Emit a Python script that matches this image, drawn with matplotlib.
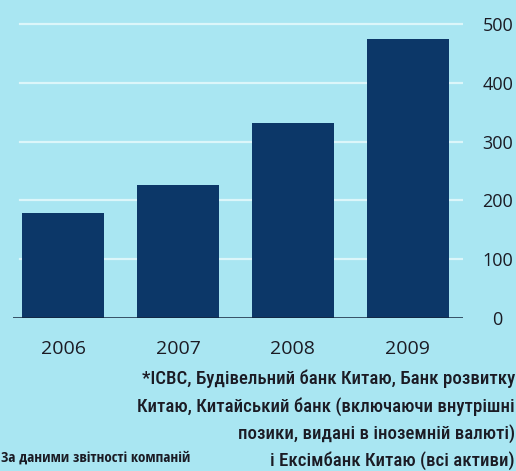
import os
import matplotlib
matplotlib.use("Agg")
import matplotlib.pyplot as plt
from matplotlib import font_manager as fm

years = ["2006", "2007", "2008", "2009"]
values = [178, 227, 332, 475]
yticks = [0, 100, 200, 300, 400, 500]
ytick_labels = ["0", "100", "200", "300", "400", "500"]
footnote_lines = ["*ICBC, Будівельний банк Китаю, Банк розвитку",
                  "Китаю, Китайський банк (включаючи внутрішні",
                  "позики, видані в іноземній валюті)",
                  "і Ексімбанк Китаю (всі активи)"]
source = "За даними звітності компаній"

BG = "#a9e6f2"
BAR = "#0c3768"
GRID = "#dcf6fa"
TXT = "#1b1b24"
FONT = ["Open Sans", "DejaVu Sans"]


def wnum(w):
    return w if isinstance(w, int) else fm.weight_dict.get(w, 400)


def is_narrow(f):
    base = os.path.basename(f.fname).lower()
    tag = (f.name + " " + base).lower()
    if "italic" in tag or "oblique" in tag:
        return False
    if f.style != "normal":
        return False
    fam_ok = any(k in tag for k in ["noto sans", "notosans", "open sans",
                                    "opensans", "roboto", "liberation"])
    narrow_ok = ("condensed" in tag or "narrow" in tag
                 or str(f.stretch) in ("condensed", "semi-condensed"))
    bad = any(k in tag for k in ["mono", "display", "extra", "ultra", "cjk",
                                 "serif", "math", "symbol"])
    return fam_ok and narrow_ok and not bad


def pick_narrow(target, max_dev):
    cands = [f for f in fm.fontManager.ttflist if is_narrow(f)]
    if cands:
        best = min(cands, key=lambda f: (abs(wnum(f.weight) - target),
                                         wnum(f.weight), f.fname))
        if abs(wnum(best.weight) - target) <= max_dev:
            return fm.FontProperties(fname=best.fname)
    return None


FOOT_PROP = pick_narrow(500, 120) or fm.FontProperties(family=["Roboto", "DejaVu Sans"])
SRC_PROP = pick_narrow(700, 150) or fm.FontProperties(family=["Roboto", "DejaVu Sans"],
                                                      weight="bold")

W, H = 516, 471
fig = plt.figure(figsize=(W / 100, H / 100), dpi=100, facecolor=BG)
renderer = fig.canvas.get_renderer()

left_px, right_px = 13, 463
zero_px = 318
px_per_unit = 0.588
ytop = 520
top_px = zero_px - ytop * px_per_unit
ax = fig.add_axes([left_px / W, (H - zero_px) / H,
                   (right_px - left_px) / W, (zero_px - top_px) / H])
ax.set_facecolor(BG)

x = list(range(len(years)))
ax.bar(x, values, width=0.715, color=BAR, zorder=3)
ax.set_xlim(-0.44, 3.483)
ax.set_ylim(0, ytop)

for t in yticks[1:]:
    ax.axhline(t, xmin=0.016, xmax=1.0, color=GRID, lw=1.6, zorder=1)
ax.axhline(0, color="#14243c", lw=1.8, zorder=4)

for s in ax.spines.values():
    s.set_visible(False)

ax.set_xticks(x)
ax.set_xticklabels(years, fontsize=14, family=FONT, color=TXT)
ax.tick_params(axis="x", length=0, pad=16)

ax.yaxis.tick_right()
ax.set_yticks(yticks)
ax.set_yticklabels(ytick_labels, fontsize=13, family=FONT, color=TXT)
ax.tick_params(axis="y", length=0, pad=25)
for lbl in ax.get_yticklabels():
    lbl.set_ha("center")

# footnote: right-aligned lines, size fitted so that line 1 spans ~373 px
foot_texts = []
baselines = [384, 411.5, 439, 466]
for line, b in zip(footnote_lines, baselines):
    t = fig.text(515 / W, 1 - b / H, line, ha="right", va="baseline",
                 fontproperties=FOOT_PROP, color=TXT)
    t.set_fontsize(13)
    foot_texts.append(t)
w1 = foot_texts[0].get_window_extent(renderer).width
fs = 13 * 373 / w1
for t in foot_texts:
    t.set_fontsize(fs)

src = fig.text(1 / W, 1 - 462 / H, source, ha="left", va="baseline",
               fontproperties=SRC_PROP, color=TXT)
src.set_fontsize(9)
ws = src.get_window_extent(renderer).width
src.set_fontsize(9 * 190 / ws)

fig.savefig("out.png", dpi=100, facecolor=BG)
